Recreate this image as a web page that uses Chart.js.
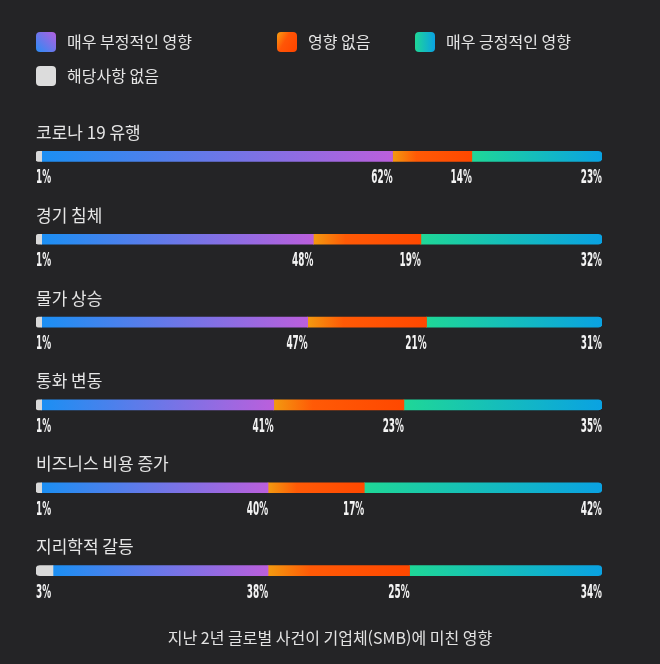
<!DOCTYPE html>
<html lang="ko">
<head>
<meta charset="utf-8">
<script src="https://cdn.jsdelivr.net/npm/chart.js@4.4.1/dist/chart.umd.min.js"></script>
<style>
  html, body { margin: 0; padding: 0; background: #242426; }
  #wrap { width: 660px; height: 664px; position: relative; }
</style>
</head>
<body>
<div id="wrap"><canvas id="myChart"></canvas></div>
<script>
// DATA
const categories = ['코로나 19 유행', '경기 침체', '물가 상승', '통화 변동', '비즈니스 비용 증가', '지리학적 갈등'];
const notApplicable = [1, 1, 1, 1, 1, 3];
const veryNegative = [62, 48, 47, 41, 40, 38];
const noImpact = [14, 19, 21, 23, 17, 25];
const veryPositive = [23, 32, 31, 35, 42, 34];
const seriesNames = ['해당사항 없음', '매우 부정적인 영향', '영향 없음', '매우 긍정적인 영향'];
const chartTitle = '지난 2년 글로벌 사건이 기업체(SMB)에 미친 영향';

const KR_FONT = '"Noto Sans CJK KR", "Noto Sans", sans-serif';

// gradient stops for each series
const stops = [
  [[0, '#d9d9d9'], [1, '#d9d9d9']],
  [[0, '#1b8ff3'], [1, '#bb5fdc']],
  [[0, '#f29a10'], [0.3, '#ff5a06'], [1, '#ff4800']],
  [[0, '#1fd797'], [1, '#0aa2e2']]
];
const allSeries = [notApplicable, veryNegative, noImpact, veryPositive];

function segmentGradient(context) {
  const chart = context.chart;
  const ds = context.datasetIndex;
  const i = context.dataIndex;
  const fallback = stops[ds][0][1];
  if (!chart.chartArea || i === undefined) return fallback;
  let start = 0;
  for (let d = 0; d < ds; d++) start += allSeries[d][i];
  const end = start + allSeries[ds][i];
  const xs = chart.scales.x;
  const x0 = xs.getPixelForValue(start);
  const x1 = xs.getPixelForValue(end);
  if (!isFinite(x0) || !isFinite(x1) || x1 - x0 < 1) return fallback;
  const g = chart.ctx.createLinearGradient(x0, 0, x1, 0);
  stops[ds].forEach(s => g.addColorStop(s[0], s[1]));
  return g;
}

// custom legend, row labels and bottom title
const labelsPlugin = {
  id: 'rowLabels',
  afterDatasetsDraw(chart) {
    const ctx = chart.ctx;
    const xs = chart.scales.x;
    const meta0 = chart.getDatasetMeta(0);
    ctx.save();
    categories.forEach((cat, i) => {
      const yc = meta0.data[i].y;
      // category title
      ctx.font = '17px ' + KR_FONT;
      ctx.fillStyle = '#e6e6e6';
      ctx.textAlign = 'left';
      ctx.textBaseline = 'middle';
      ctx.fillText(cat, chart.chartArea.left, yc - 24);
      // value labels
      let cum = 0;
      allSeries.forEach((arr, d) => {
        cum += arr[i];
        const txt = arr[i] + '%';
        const xr = xs.getPixelForValue(cum);
        ctx.save();
        ctx.font = 'bold 19px "DejaVu Sans Condensed", "DejaVu Sans", sans-serif';
        ctx.fillStyle = '#f4f4f4';
        ctx.textBaseline = 'middle';
        if (d === 0) {
          ctx.translate(chart.chartArea.left, yc + 22);
          ctx.textAlign = 'left';
        } else {
          ctx.translate(xr, yc + 22);
          ctx.textAlign = 'right';
        }
        ctx.scale(0.52, 1);
        ctx.fillText(txt, 0, 0);
        ctx.restore();
      });
    });

    // legend
    const items = [
      { ds: 1, x: 36, y: 42, grad: [[0, '#2a8cf5'], [1, '#b45fe0']], dir: [0, 1, 1, 0] },
      { ds: 2, x: 277, y: 42, grad: [[0, '#f7a012'], [0.5, '#ff5506'], [1, '#ff4800']], dir: [0, 0, 1, 0.6] },
      { ds: 3, x: 415, y: 42, grad: [[0, '#1fd797'], [1, '#0aa2e2']], dir: [0, 0, 1, 0] },
      { ds: 0, x: 36, y: 76, grad: [[0, '#dcdcdc'], [1, '#dcdcdc']], dir: [0, 0, 1, 0] }
    ];
    const bs = 20;
    items.forEach(it => {
      const bx = it.x, by = it.y - bs / 2;
      const g = ctx.createLinearGradient(bx + it.dir[0] * bs, by + it.dir[1] * bs, bx + it.dir[2] * bs, by + it.dir[3] * bs);
      it.grad.forEach(s => g.addColorStop(s[0], s[1]));
      ctx.fillStyle = g;
      ctx.beginPath();
      ctx.roundRect(bx, by, bs, bs, 4);
      ctx.fill();
      ctx.font = '16px ' + KR_FONT;
      ctx.fillStyle = '#e6e6e6';
      ctx.textAlign = 'left';
      ctx.textBaseline = 'middle';
      ctx.fillText(seriesNames[it.ds], bx + 31, it.y);
    });

    // bottom title, centred on the whole canvas
    ctx.font = '16px ' + KR_FONT;
    ctx.fillStyle = '#e2e2e2';
    ctx.textAlign = 'center';
    ctx.textBaseline = 'middle';
    ctx.fillText(chartTitle, chart.width / 2, 638);
    ctx.restore();
  }
};

const bgPlugin = {
  id: 'bg',
  beforeDraw(chart) {
    const ctx = chart.ctx;
    ctx.save();
    ctx.fillStyle = '#242426';
    ctx.fillRect(0, 0, chart.width, chart.height);
    ctx.restore();
  }
};

const radii = [
  { topLeft: 4, bottomLeft: 4, topRight: 0, bottomRight: 0 },
  0, 0,
  { topLeft: 0, bottomLeft: 0, topRight: 4, bottomRight: 4 }
];

const ctx = document.getElementById('myChart');
const myChart = new Chart(ctx, {
  type: 'bar',
  data: {
    labels: categories,
    datasets: allSeries.map((arr, d) => ({
      label: seriesNames[d],
      data: arr,
      backgroundColor: segmentGradient,
      borderWidth: 0,
      borderSkipped: false,
      borderRadius: radii[d],
      barThickness: 10
    }))
  },
  options: {
    indexAxis: 'y',
    responsive: true,
    maintainAspectRatio: false,
    animation: false,
    layout: { padding: { top: 115, left: 36, right: 58, bottom: 52 } },
    scales: {
      x: { stacked: true, min: 0, max: 100, display: false },
      y: { stacked: true, display: false }
    },
    plugins: {
      legend: { display: false },
      tooltip: { enabled: false },
      title: { display: false }
    }
  },
  plugins: [bgPlugin, labelsPlugin]
});
</script>
</body>
</html>
